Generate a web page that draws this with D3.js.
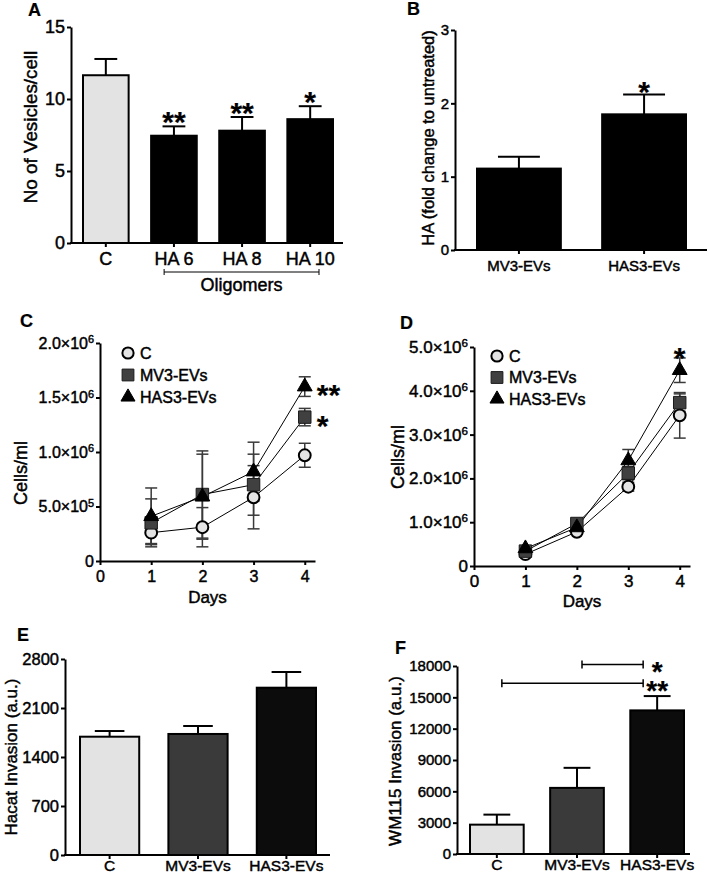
<!DOCTYPE html>
<html><head><meta charset="utf-8">
<script src="https://cdn.jsdelivr.net/npm/d3@7"></script>
<style>
body{margin:0;background:#fff}
svg{display:block}
text{font-family:"Liberation Sans",Arial,Helvetica,sans-serif;fill:#000;stroke:#000;stroke-width:0.45px}
</style>
</head><body>
<svg id="fig" width="709" height="873"></svg>
<script>
// ---------------- DATA ----------------
// Panel A
const aCategories = ["C", "HA 6", "HA 8", "HA 10"];
const aMeans = [11.65, 7.45, 7.8, 8.6];
const aErrors = [1.13, 0.65, 0.95, 0.9];
const aStars = ["", "**", "**", "*"];
const aFills = ["#e3e3e3", "#000000", "#000000", "#000000"];
const aTicks = [0, 5, 10, 15];
const aTickLabels = ["0", "5", "10", "15"];

// Panel B
const bCategories = ["MV3-EVs", "HAS3-EVs"];
const bMeans = [1.11, 1.85];
const bErrors = [0.16, 0.27];
const bStars = ["", "*"];
const bFills = ["#000000", "#000000"];
const bTicks = [0, 1, 2, 3];
const bTickLabels = ["0", "1", "2", "3"];

// Panels C & D (growth curves)
const seriesNames = ["C", "MV3-EVs", "HAS3-EVs"];
const days = [1, 2, 3, 4];
const dayTicks = [0, 1, 2, 3, 4];

const cValuesC = [0.26e6, 0.31e6, 0.585e6, 0.97e6];
const cErrorsC = [0.10e6, 0.18e6, 0.29e6, 0.11e6];
const cValuesMV3 = [0.35e6, 0.61e6, 0.70e6, 1.32e6];
const cErrorsMV3 = [0.22e6, 0.40e6, 0.28e6, 0.08e6];
const cValuesHAS3 = [0.41e6, 0.59e6, 0.82e6, 1.60e6];
const cErrorsHAS3 = [0.26e6, 0.39e6, 0.27e6, 0.09e6];
const cStars = ["", "*", "**"];          // per series at day 4
const cTicks = [0, 5e5, 1e6, 1.5e6, 2e6];
const cTickLabels = ["0", "5.0×10^5", "1.0×10^6", "1.5×10^6", "2.0×10^6"];

const dValuesC = [0.27e6, 0.78e6, 1.81e6, 3.44e6];
const dErrorsC = [0.05e6, 0.05e6, 0.10e6, 0.52e6];
const dValuesMV3 = [0.34e6, 0.97e6, 2.12e6, 3.73e6];
const dErrorsMV3 = [0.05e6, 0.06e6, 0.15e6, 0.20e6];
const dValuesHAS3 = [0.40e6, 0.88e6, 2.41e6, 4.47e6];
const dErrorsHAS3 = [0.05e6, 0.06e6, 0.25e6, 0.28e6];
const dTicks = [0, 1e6, 2e6, 3e6, 4e6, 5e6];
const dTickLabels = ["0", "1.0×10^6", "2.0×10^6", "3.0×10^6", "4.0×10^6", "5.0×10^6"];

// Panel E
const eCategories = ["C", "MV3-EVs", "HAS3-EVs"];
const eMeans = [1690, 1729, 2390];
const eErrors = [81, 114, 224];
const eFills = ["#e3e3e3", "#3a3a3a", "#0c0c0c"];
const eTicks = [0, 700, 1400, 2100, 2800];
const eTickLabels = ["0", "700", "1400", "2100", "2800"];

// Panel F
const fCategories = ["C", "MV3-EVs", "HAS3-EVs"];
const fMeans = [2810, 6330, 13750];
const fErrors = [960, 1920, 1370];
const fFills = ["#e3e3e3", "#3a3a3a", "#0c0c0c"];
const fTicks = [0, 3000, 6000, 9000, 12000, 15000, 18000];
const fTickLabels = ["0", "3000", "6000", "9000", "12000", "15000", "18000"];
const fBracketFrom = [1, 0];
const fBracketTo = [2, 2];
const fBracketValues = [18150, 16350];
const fBracketLabels = ["*", "**"];

// ---------------- DRAWING ----------------
const svg = d3.select("#fig");
const FONT = '"Liberation Sans",Arial,Helvetica,sans-serif';

function panelLabel(t, x, y) {
  svg.append("text").attr("x", x).attr("y", y).attr("font-size", 18)
    .attr("font-weight", "bold").style("stroke-width", "0.2px").text(t);
}
function yTitle(t, x, y, fs) {
  svg.append("text").attr("transform", `translate(${x},${y}) rotate(-90)`)
    .attr("text-anchor", "middle").attr("dominant-baseline", "central")
    .attr("font-size", fs).text(t);
}
function star(t, x, yc, anchor, fs) {
  fs = fs || 30;
  svg.append("text").attr("x", x).attr("y", yc + 0.57 * fs)
    .attr("text-anchor", anchor || "middle").attr("font-weight", "bold")
    .attr("font-size", fs).style("stroke-width", "0.2px").text(t);
}
function styleAxis(g, fs) {
  g.selectAll("path.domain").attr("stroke", "#000").attr("stroke-width", 2);
  g.selectAll(".tick line").attr("stroke", "#000").attr("stroke-width", 2);
  g.selectAll(".tick text").attr("font-size", fs).attr("font-family", FONT).attr("fill", "#000");
}
function yAxis(y, ticks, labels, axisX, fs) {
  const g = svg.append("g").attr("transform", `translate(${axisX},0)`)
    .call(d3.axisLeft(y).tickValues(ticks).tickFormat((d, i) => labels[i])
      .tickSize(4).tickPadding(2).tickSizeOuter(0));
  styleAxis(g, fs);
  g.selectAll(".tick text").each(function (d, i) {
    const s = labels[i];
    if (s.includes("^")) {
      const [base, ex] = s.split("^");
      const t = d3.select(this);
      t.text(base);
      t.append("tspan").attr("dy", "-0.5em").attr("font-size", "0.68em").text(ex);
    }
  });
  return g;
}

function barPanel(c) {
  const y = d3.scaleLinear().domain(c.domain).range(c.yRange);
  const x = d3.scaleBand().domain(c.cats).range(c.barRange).paddingInner(0.33).paddingOuter(0);
  const bw = x.bandwidth();
  // bars
  svg.append("g").selectAll("rect").data(c.cats).join("rect")
    .attr("x", d => x(d)).attr("y", (d, i) => y(c.means[i]))
    .attr("width", bw).attr("height", (d, i) => y(0) - y(c.means[i]))
    .attr("fill", (d, i) => c.fills[i]).attr("stroke", "#000").attr("stroke-width", 2);
  // error bars (upper)
  const eg = svg.append("g").attr("stroke", "#000").attr("stroke-width", 2);
  c.cats.forEach((d, i) => {
    const cx = x(d) + bw / 2;
    eg.append("line").attr("x1", cx).attr("x2", cx)
      .attr("y1", y(c.means[i])).attr("y2", y(c.means[i] + c.errs[i]));
    eg.append("line").attr("x1", cx - bw / 4).attr("x2", cx + bw / 4)
      .attr("y1", y(c.means[i] + c.errs[i])).attr("y2", y(c.means[i] + c.errs[i]));
  });
  // axes
  yAxis(y, c.ticks, c.tickLabels, c.axisX, c.tickFont);
  const gx = svg.append("g").attr("transform", `translate(0,${y(0)})`)
    .call(d3.axisBottom(x).tickSize(4).tickPadding(c.catPad).tickSizeOuter(0));
  styleAxis(gx, c.catFont);
  gx.select("path.domain").remove();
  svg.append("line").attr("x1", c.axisX - 1).attr("x2", c.xEnd)
    .attr("y1", y(0)).attr("y2", y(0)).attr("stroke", "#000").attr("stroke-width", 2);
  // stars
  if (c.stars) c.cats.forEach((d, i) => {
    if (c.stars[i]) star(c.stars[i], x(d) + bw / 2, y(c.means[i] + c.errs[i]) - c.starGap);
  });
  return { x, y };
}

function linePanel(c) {
  const x = d3.scaleLinear().domain([0, 4.2]).range(c.xRange);
  const y = d3.scaleLinear().domain(c.domain).range(c.yRange);
  const symbols = [d3.symbolCircle, d3.symbolSquare, d3.symbolTriangle];
  const sizes = [110, 155, 95];
  const fills = ["#e4e4e4", "#404040", "#000000"];
  const strokes = ["#000", "#1a1a1a", "#000"];
  const sw = [2, 1, 1];
  // axes
  yAxis(y, c.ticks, c.tickLabels, c.xRange[0], c.tickFont);
  const gx = svg.append("g").attr("transform", `translate(0,${c.yRange[0]})`)
    .call(d3.axisBottom(x).tickValues(dayTicks).tickFormat(d3.format("d"))
      .tickSize(4).tickPadding(c.xPad).tickSizeOuter(0));
  styleAxis(gx, c.tickFont);
  // error bars
  c.series.forEach((s, k) => {
    const g = svg.append("g").attr("stroke", "#3a3a3a").attr("stroke-width", 1.5);
    days.forEach((d, i) => {
      const cx = x(d), hi = y(s.v[i] + s.e[i]), lo = y(s.v[i] - s.e[i]);
      g.append("line").attr("x1", cx).attr("x2", cx).attr("y1", hi).attr("y2", lo);
      g.append("line").attr("x1", cx - 6).attr("x2", cx + 6).attr("y1", hi).attr("y2", hi);
      g.append("line").attr("x1", cx - 6).attr("x2", cx + 6).attr("y1", lo).attr("y2", lo);
    });
  });
  // lines
  const line = d3.line().x((d, i) => x(days[i])).y(d => y(d));
  c.series.forEach(s => {
    svg.append("path").datum(s.v).attr("d", line).attr("fill", "none")
      .attr("stroke", "#000").attr("stroke-width", 1);
  });
  // markers
  c.series.forEach((s, k) => {
    svg.append("g").selectAll("path").data(s.v).join("path")
      .attr("transform", (d, i) => `translate(${x(days[i])},${y(d)})`)
      .attr("d", d3.symbol(symbols[k], sizes[k]))
      .attr("fill", fills[k]).attr("stroke", strokes[k]).attr("stroke-width", sw[k]);
  });
  // legend
  seriesNames.forEach((n, k) => {
    const ly = c.legY + k * c.legStep;
    svg.append("path").attr("transform", `translate(${c.legX},${ly})`)
      .attr("d", d3.symbol(symbols[k], sizes[k] * 0.9))
      .attr("fill", fills[k]).attr("stroke", strokes[k]).attr("stroke-width", sw[k]);
    svg.append("text").attr("x", c.legX + 12).attr("y", ly).attr("dominant-baseline", "central")
      .attr("font-size", 16).text(n);
  });
  // x title
  svg.append("text").attr("x", (c.xRange[0] + c.xRange[1]) / 2).attr("y", c.daysY)
    .attr("text-anchor", "middle").attr("dominant-baseline", "central")
    .attr("font-size", 17).text("Days");
  return { x, y };
}

// ---- Panel A ----
panelLabel("A", 28, 16);
const pA = barPanel({
  cats: aCategories, means: aMeans, errs: aErrors, fills: aFills, stars: aStars,
  ticks: aTicks, tickLabels: aTickLabels, domain: [0, 15], yRange: [243, 27],
  axisX: 71, xEnd: 343, barRange: [83, 333], tickFont: 18, catFont: 18, catPad: 5, starGap: 11
});
yTitle("No of Vesicles/cell", 30, 127, 18.8);
{
  const x = pA.x, bw = x.bandwidth();
  const x1 = x("HA 6") + 13, x2 = x("HA 10") + bw - 14, yy = 272;
  const g = svg.append("g").attr("stroke", "#000").attr("stroke-width", 1);
  g.append("line").attr("x1", x1).attr("x2", x2).attr("y1", yy).attr("y2", yy);
  g.append("line").attr("x1", x1).attr("x2", x1).attr("y1", yy - 3).attr("y2", yy + 3);
  g.append("line").attr("x1", x2).attr("x2", x2).attr("y1", yy - 3).attr("y2", yy + 3);
  svg.append("text").attr("x", (x1 + x2) / 2).attr("y", 285).attr("text-anchor", "middle")
    .attr("dominant-baseline", "central").attr("font-size", 18).text("Oligomers");
}

// ---- Panel B ----
panelLabel("B", 407, 15);
barPanel({
  cats: bCategories, means: bMeans, errs: bErrors, fills: bFills, stars: bStars,
  ticks: bTicks, tickLabels: bTickLabels, domain: [0, 3], yRange: [250, 30],
  axisX: 455, xEnd: 707, barRange: [477, 686], tickFont: 15, catFont: 15, catPad: 6, starGap: 10
});
yTitle("HA (fold change to untreated)", 428, 138, 16.5);

// ---- Panel C ----
panelLabel("C", 20, 327);
const pC = linePanel({
  series: [
    { v: cValuesC, e: cErrorsC },
    { v: cValuesMV3, e: cErrorsMV3 },
    { v: cValuesHAS3, e: cErrorsHAS3 }
  ],
  xRange: [100, 315], yRange: [561, 343], domain: [0, 2e6],
  ticks: cTicks, tickLabels: cTickLabels, tickFont: 16, xPad: 6,
  legX: 128, legY: 353, legStep: 22, daysY: 597
});
yTitle("Cells/ml", 21, 473, 18);
star(cStars[2], pC.x(4) + 12, pC.y(cValuesHAS3[3]) + 1, "start");
star(cStars[1], pC.x(4) + 12, pC.y(cValuesMV3[3]) + 2, "start");

// ---- Panel D ----
panelLabel("D", 400, 329);
const pD = linePanel({
  series: [
    { v: dValuesC, e: dErrorsC },
    { v: dValuesMV3, e: dErrorsMV3 },
    { v: dValuesHAS3, e: dErrorsHAS3 }
  ],
  xRange: [474, 690], yRange: [566, 347], domain: [0, 5e6],
  ticks: dTicks, tickLabels: dTickLabels, tickFont: 17, xPad: 5,
  legX: 497, legY: 356, legStep: 21.5, daysY: 601
});
yTitle("Cells/ml", 398, 457, 18);
star("*", pD.x(4), pD.y(dValuesHAS3[3] + dErrorsHAS3[3]) - 7);

// ---- Panel E ----
panelLabel("E", 17, 641);
barPanel({
  cats: eCategories, means: eMeans, errs: eErrors, fills: eFills,
  ticks: eTicks, tickLabels: eTickLabels, domain: [0, 2800], yRange: [855, 659],
  axisX: 65, xEnd: 330, barRange: [80, 316], tickFont: 16.5, catFont: 15.5, catPad: 1, starGap: 10
});
yTitle("Hacat Invasion (a.u.)", 11, 757, 17);

// ---- Panel F ----
panelLabel("F", 395, 654);
const pF = barPanel({
  cats: fCategories, means: fMeans, errs: fErrors, fills: fFills,
  ticks: fTicks, tickLabels: fTickLabels, domain: [0, 18000], yRange: [854, 666],
  axisX: 457, xEnd: 690, barRange: [470, 684], tickFont: 15, catFont: 15.5, catPad: 1, starGap: 10
});
yTitle("WM115 Invasion (a.u.)", 395, 761, 17);
{
  const x = pF.x, y = pF.y, bw = x.bandwidth();
  const g = svg.append("g").attr("stroke", "#000").attr("stroke-width", 1.5);
  fBracketValues.forEach((v, i) => {
    const x1 = x(fCategories[fBracketFrom[i]]) + bw / 2 + 5;
    const xt = x(fCategories[fBracketTo[i]]) + bw / 2;
    const x2 = xt - 14, yy = y(v);
    g.append("line").attr("x1", x1).attr("x2", x2).attr("y1", yy).attr("y2", yy);
    g.append("line").attr("x1", x1).attr("x2", x1).attr("y1", yy - 4).attr("y2", yy + 4);
    g.append("line").attr("x1", x2).attr("x2", x2).attr("y1", yy - 4).attr("y2", yy + 4);
    star(fBracketLabels[i], xt, yy + 1, "middle", 28);
  });
}
</script>
</body></html>
